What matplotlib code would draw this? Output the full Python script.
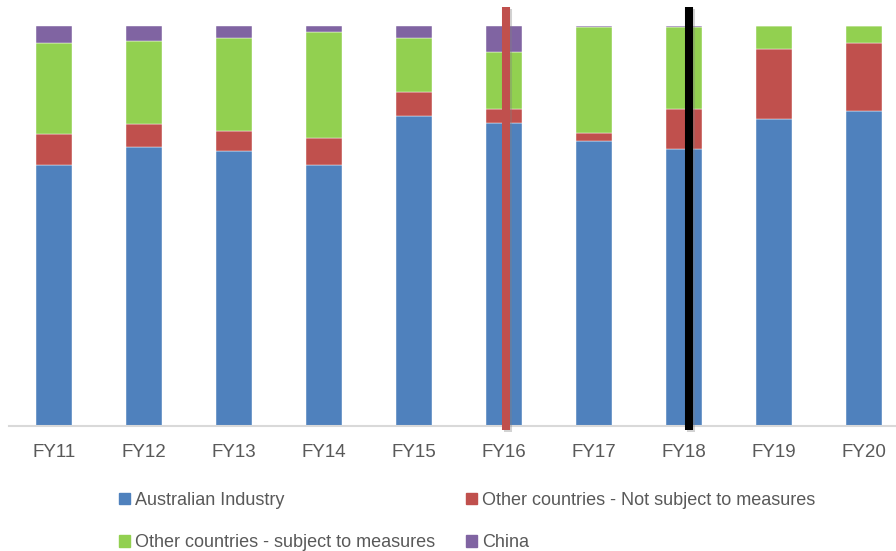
import matplotlib
matplotlib.use("Agg")
import matplotlib.pyplot as plt
import matplotlib.patheffects as pe
from matplotlib.patches import Patch
import numpy as np

# Share of the market by source, per financial year (%)
years = ["FY11", "FY12", "FY13", "FY14", "FY15", "FY16", "FY17", "FY18", "FY19", "FY20"]
australian_industry = [65.3, 69.7, 68.7, 65.3, 77.5, 75.8, 71.3, 69.3, 76.7, 78.7]
not_subject = [7.7, 5.9, 5.1, 6.6, 6.1, 3.5, 1.9, 10.0, 17.5, 17.1]
subject = [22.7, 20.7, 23.2, 26.7, 13.4, 14.1, 26.6, 20.5, 5.8, 4.2]
china = [4.3, 3.7, 3.0, 1.4, 3.0, 6.6, 0.2, 0.2, 0.0, 0.0]

series_labels = ["Australian Industry", "Other countries - Not subject to measures",
                 "Other countries - subject to measures", "China"]
colors = ["#4F81BD", "#C0504D", "#92D050", "#8064A2"]

# Markers for the two periods of interest
marker_x = [5.02, 7.05]
marker_colors = ["#C0504D", "#000000"]

plt.rcParams["font.family"] = ["Liberation Sans", "DejaVu Sans"]

W, H = 896, 551
fig = plt.figure(figsize=(W / 100, H / 100), dpi=100)

# axes: baseline at y=426 px, left edge at x=9 px
ax_left, ax_bottom = 9, 426
ax = fig.add_axes([ax_left / W, (H - ax_bottom) / H, (W - ax_left) / W, ax_bottom / H])
ax.set_xlim(-0.5, -0.5 + (W - ax_left) / 90)
ax.set_ylim(0, 106.5)

x = np.arange(len(years))
bottom = np.zeros(len(years))
for vals, col, lab in zip([australian_industry, not_subject, subject, china], colors, series_labels):
    vals = np.array(vals)
    ax.bar(x, vals, width=0.4, bottom=bottom, color=col, label=lab,
           edgecolor="white", linewidth=0.3)
    bottom += vals

for mx, mc in zip(marker_x, marker_colors):
    ax.plot([mx, mx], [-1.0, 104.7], color=mc, linewidth=5.8, solid_capstyle="butt",
            clip_on=False, zorder=5,
            path_effects=[pe.SimpleLineShadow(offset=(1.5, -1.5), shadow_color="#808080", alpha=0.35),
                          pe.Normal()])

for side in ["left", "right", "top"]:
    ax.spines[side].set_visible(False)
ax.spines["bottom"].set_color("#d9d9d9")
ax.spines["bottom"].set_linewidth(1.5)
ax.set_yticks([])
ax.set_xticks(x)
ax.set_xticklabels(years, fontsize=13.5, color="#595959")
ax.tick_params(axis="x", length=0, pad=13)

handles = [Patch(color=c) for c in colors]
order = [0, 2, 1, 3]
fig.legend([handles[i] for i in order], [series_labels[i] for i in order],
           ncol=2, loc="upper left", bbox_to_anchor=(119 / W, 1 - 492 / H),
           frameon=False, fontsize=13, labelcolor="#595959",
           handlelength=0.61, handleheight=0.61, handletextpad=0.28,
           columnspacing=1.72, labelspacing=1.41, borderpad=0, borderaxespad=0)

fig.savefig("out.png", dpi=100)
